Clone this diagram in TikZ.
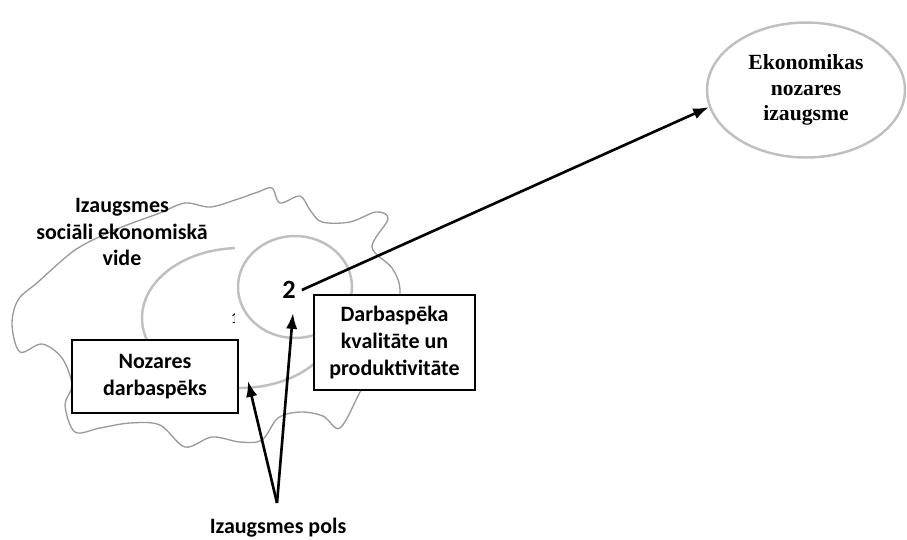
\documentclass[tikz,border=0pt]{standalone}
\usepackage{fontspec}
\setmainfont{Carlito}
\newfontfamily\growthfont{Liberation Serif}
\usetikzlibrary{arrows.meta,shapes.geometric}

\begin{document}
\begin{tikzpicture}[x=0.02cm,y=-0.02cm,
    every node/.style={font=\bfseries\fontsize{12.5}{15.2}\selectfont,align=center},
    ring/.style={draw=gray!50,line width=1.4pt},
    card/.style={draw,line width=0.8pt,fill=white,inner sep=0pt},
    arr/.style={line width=1.5pt,-{Latex[length=9pt,width=6.5pt]}}]
  \useasboundingbox (0,0) rectangle (907,539);
  % environment cloud
  \draw[gray!80,line width=0.75pt] plot[smooth cycle,tension=0.55] coordinates {
    (160,213) (185,203) (210,207) (235,200) (258,192) (272,188) (280,203)
    (300,196) (310,210) (322,222) (350,222) (376,212) (388,219) (372,247)
    (392,268) (400,290) (395,330) (375,365) (360,392) (340,428) (323,416)
    (300,412) (278,418) (262,440) (240,442) (212,437) (185,447) (160,425)
    (130,423) (100,428) (75,432) (65,405) (72,385) (62,358) (42,344)
    (20,352) (12,325) (18,300) (38,282) (75,250) (110,232) (135,222)};
  \node (envlabel) at (122,232) {Izaugsmes\\sociāli ekonomiskā\\vide};
  % circles 1 and 2
  \draw[ring] (240,318) ellipse (1.96cm and 1.4cm);
  \node[font=\fontsize{9}{9}\selectfont] (one) at (235,318) {1};
  \fill[white] (235,230) rectangle (356,345);
  \draw[ring] (295,287) ellipse (1.14cm and 1.02cm);
  \node[font=\bfseries\fontsize{15}{15}\selectfont] (two) at (289,290) {2};
  % boxes
  \node[card,minimum width=3.32cm,minimum height=1.46cm] (labour) at (155,376.5)
    {Nozares\\darbaspēks};
  \node[card,minimum width=3.22cm,minimum height=1.9cm] (quality) at (394.5,342.5)
    {Darbaspēka\\kvalitāte un\\produktivitāte};
  % growth
  \node[ellipse,ring,minimum width=3.96cm,minimum height=2.7cm,inner sep=0pt,
    font=\growthfont\bfseries\fontsize{12.3}{14.7}\selectfont] (growth) at (806,90)
    {Ekonomikas\\nozares\\izaugsme};
  % pole
  \coordinate (pole) at (277,503);
  \coordinate (tipA) at (248,381);
  \coordinate (tipB) at (293,313);
  \node (polelabel) at (278,528) {Izaugsmes pols};
  \draw[arr] (pole) -- (tipA);
  \draw[arr] (pole) -- (tipB);
  \draw[arr] (two.east) -- (growth.190);
\end{tikzpicture}
\end{document}
